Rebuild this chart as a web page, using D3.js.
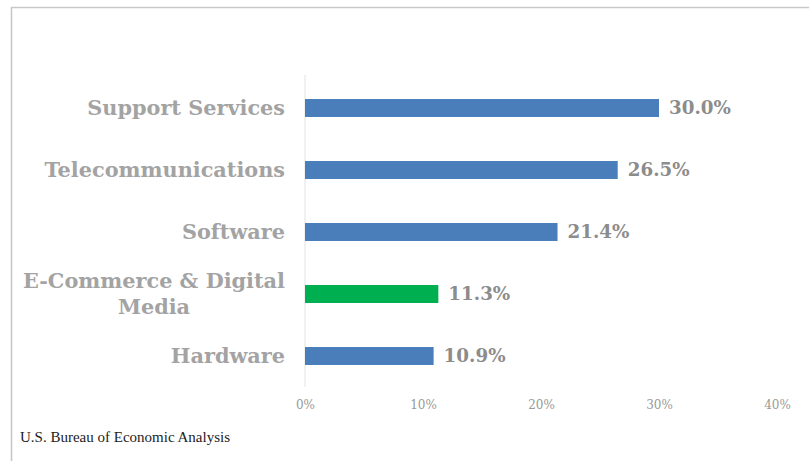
<!DOCTYPE html>
<html><head><meta charset="utf-8">
<script src="https://cdn.jsdelivr.net/npm/d3@7"></script>
<style>body{margin:0;background:#fff}svg{display:block}</style>
</head><body>
<svg id="c" width="809" height="461"></svg>
<script>
const categories = ["Support Services","Telecommunications","Software","E-Commerce & Digital Media","Hardware"];
const labelLines = [["Support Services"],["Telecommunications"],["Software"],["E-Commerce & Digital","Media"],["Hardware"]];
const values = [30.0, 26.5, 21.4, 11.3, 10.9];
const highlight = [false,false,false,true,false];
const ticks = [0,10,20,30,40];
const source = "U.S. Bureau of Economic Analysis";

const svg = d3.select("#c");
// frame
svg.append("path").attr("d","M11.5,470 L11.5,7.5 L820,7.5").attr("fill","none").attr("stroke","#c8c8c8").attr("stroke-width",1.6);

const x = d3.scaleLinear().domain([0,40]).range([305,777]);
const y = d3.scaleBand().domain(categories).range([77,387]).paddingInner(0.71).paddingOuter(0.355);

svg.append("line").attr("x1",x(0)).attr("x2",x(0)).attr("y1",75).attr("y2",387).attr("stroke","#e3e3e3").attr("stroke-width",1);

svg.selectAll("rect.bar").data(categories).join("rect").attr("class","bar")
  .attr("x",x(0)).attr("y",d=>y(d)).attr("height",y.bandwidth())
  .attr("width",(d,i)=>x(values[i])-x(0))
  .attr("fill",(d,i)=>highlight[i]?"#00b050":"#4a7ebb");

const serif = "'DejaVu Serif', 'Liberation Serif', serif";

svg.selectAll("text.val").data(categories).join("text").attr("class","val")
  .attr("x",(d,i)=>x(values[i])+10).attr("y",d=>y(d)+y.bandwidth()/2).attr("dy","0.35em")
  .attr("font-family",serif).attr("font-weight","bold").attr("font-size",18.3).attr("fill","#8c8c8c")
  .text((d,i)=>values[i].toFixed(1)+"%");

// category labels
categories.forEach((c,i)=>{
  const lines = labelLines[i];
  const cy = y(c)+y.bandwidth()/2;
  const lh = 26;
  const g = svg.append("g");
  const ts = lines.map((l,j)=>g.append("text")
    .attr("y", cy + (j-(lines.length-1)/2)*lh).attr("dy","0.35em")
    .attr("font-family",serif).attr("font-weight","bold").attr("font-size",20.8).attr("fill","#a3a3a3")
    .text(l));
  const widths = ts.map(t=>t.node().getComputedTextLength());
  const maxW = Math.max(...widths);
  const center = 285 - maxW/2;
  ts.forEach(t=>t.attr("x",center).attr("text-anchor","middle"));
});

// x axis ticks
const ax = d3.axisBottom(x).tickValues(ticks).tickFormat(d=>d+"%").tickSize(0);
const axg = svg.append("g").attr("transform","translate(0,397)").call(ax);
axg.select(".domain").remove();
axg.selectAll("text").attr("font-family",serif).attr("font-size",12).attr("fill","#999").attr("dy","0.71em");

svg.append("text").attr("x",20).attr("y",442).attr("font-family","'Liberation Serif', serif").attr("font-size",15).attr("fill","#222").text(source);
</script>
</body></html>
